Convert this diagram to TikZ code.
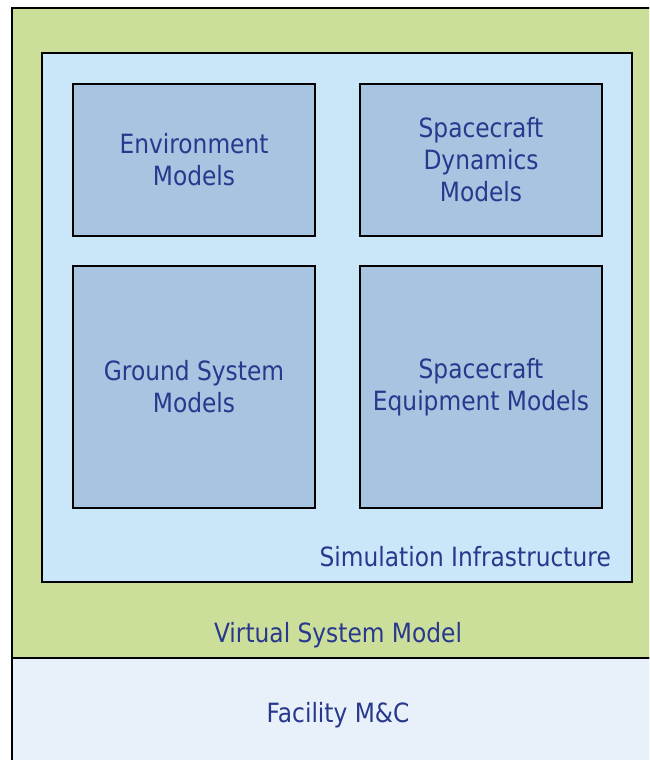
\documentclass[tikz,border=0pt]{standalone}
\usepackage{fontspec}
\setmainfont{DejaVu Sans}[FakeStretch=0.88]
\definecolor{vsmgreen}{RGB}{204,223,154}
\definecolor{simblue}{RGB}{201,231,248}
\definecolor{modblue}{RGB}{167,196,225}
\definecolor{facblue}{RGB}{232,240,250}
\definecolor{txtblue}{RGB}{40,56,140}
\tikzset{
  layer/.style={draw=black, line width=2pt, rectangle, inner sep=0pt},
  modelbox/.style={layer, fill=modblue, text=txtblue, align=center,
    minimum width=242pt, font=\fontsize{26.5}{32}\selectfont},
  lbl/.style={text=txtblue, font=\fontsize{26.5}{32}\selectfont, inner sep=0pt}
}
\begin{document}
\begin{tikzpicture}[x=1pt,y=-1pt]
\useasboundingbox (0,0) rectangle (649,760);
\clip (0,0) rectangle (649,760);
\node[layer, fill=vsmgreen, minimum width=654pt, minimum height=650pt] (vsm) at (339,333) {};
\node[layer, fill=facblue, minimum width=654pt, minimum height=110pt] (fac) at (339,713) {};
\node[layer, fill=simblue, minimum width=590pt, minimum height=529pt] (sim) at (337,317.5) {};
\node[modelbox, minimum height=152pt] (env) at (194,160) {Environment\\Models};
\node[modelbox, minimum height=152pt] (dyn) at (481,160) {Spacecraft\\Dynamics\\Models};
\node[modelbox, minimum height=242pt] (gnd) at (194,387) {Ground System\\Models};
\node[modelbox, minimum height=242pt] (eqp) at (481,387) {Spacecraft\\Equipment Models};
\node[lbl, anchor=east] (simlbl) at (611,557) {Simulation Infrastructure};
\node[lbl] (vsmlbl) at (338,635) {Virtual System Model};
\node[lbl] (faclbl) at (338,715) {Facility M\&C};
\end{tikzpicture}
\end{document}
